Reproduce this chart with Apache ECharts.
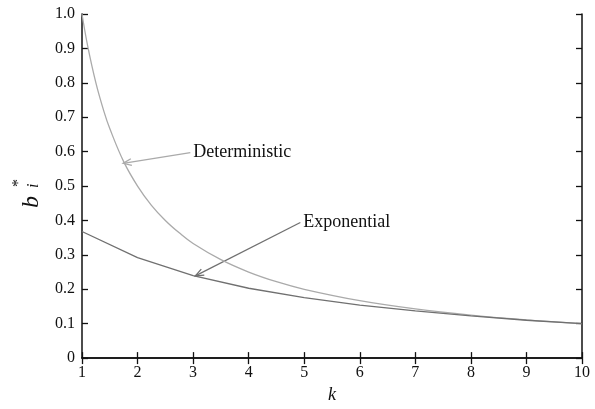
<!DOCTYPE html>
<html>
<head>
<meta charset="utf-8">
<script src="https://cdn.jsdelivr.net/npm/echarts@6/dist/echarts.min.js"></script>
<style>
  html, body { margin: 0; padding: 0; background: #fff; }
  #chart { width: 595px; height: 409px; }
</style>
</head>
<body>
<div id="chart"></div>
<script>
// Optimal b*_i against k for the two service-time models
const kDeterministic = [1, 1.1, 1.25, 1.4, 1.5, 1.75, 2, 2.25, 2.5, 2.75, 3, 3.5, 4, 4.5, 5, 6, 7, 8, 9, 10];
const bDeterministic = [1.0, 0.909, 0.8, 0.714, 0.667, 0.571, 0.5, 0.444, 0.4, 0.364, 0.333, 0.286, 0.25, 0.222, 0.2, 0.167, 0.143, 0.125, 0.111, 0.1];

const kExponential = [1, 2, 3, 4, 5, 6, 7, 8, 9, 10];
const bExponential = [0.368, 0.292, 0.240, 0.203, 0.176, 0.154, 0.137, 0.123, 0.110, 0.100];

const xTicks = [1, 2, 3, 4, 5, 6, 7, 8, 9, 10];
const yTicks = [0, 0.1, 0.2, 0.3, 0.4, 0.5, 0.6, 0.7, 0.8, 0.9, 1.0];

// Callouts: [text anchor, arrow tip] in data units
const callouts = [
  { text: 'Deterministic', from: [2.95, 0.597], to: [1.74, 0.566], color: '#aaaaaa' },
  { text: 'Exponential',   from: [4.93, 0.394], to: [3.04, 0.239], color: '#707070' }
];

const SERIF = '"Liberation Serif", "DejaVu Serif", serif';
const chart = echarts.init(document.getElementById('chart'));

const axisCommon = {
  axisLine: { show: true, lineStyle: { color: '#111', width: 1.5 } },
  axisTick: { show: true, inside: true, length: 6, lineStyle: { color: '#111', width: 1.3 } },
  splitLine: { show: false },
  axisLabel: { color: '#111', fontFamily: SERIF, fontSize: 16 }
};

function pair(xs, ys) { return xs.map((x, i) => [x, ys[i]]); }

chart.setOption({
  animation: false,
  backgroundColor: '#fff',
  grid: { left: 82, right: 13, top: 14, bottom: 40 },
  xAxis: [
    Object.assign({}, axisCommon, {
      type: 'value', min: 1, max: 10, interval: 1,
      axisLabel: Object.assign({}, axisCommon.axisLabel, { margin: 7, formatter: v => xTicks.includes(v) ? String(v) : '' }),
      name: 'k', nameLocation: 'middle', nameGap: 26,
      nameTextStyle: { fontFamily: SERIF, fontStyle: 'italic', fontSize: 18, color: '#111' }
    }),
    Object.assign({}, axisCommon, {
      type: 'value', min: 1, max: 10, interval: 1, position: 'top',
      axisLabel: { show: false }
    })
  ],
  yAxis: [
    Object.assign({}, axisCommon, {
      type: 'value', min: 0, max: 1, interval: 0.1,
      axisLabel: Object.assign({}, axisCommon.axisLabel, {
        margin: 7,
        formatter: v => {
          const t = yTicks.find(y => Math.abs(y - v) < 1e-9);
          return t === undefined ? '' : (t === 0 ? '0' : t.toFixed(1));
        }
      })
    }),
    Object.assign({}, axisCommon, {
      type: 'value', min: 0, max: 1, interval: 0.1, position: 'right',
      axisLabel: { show: false }
    })
  ],
  series: [
    {
      name: 'Deterministic', type: 'line', smooth: 0.4, showSymbol: false,
      data: pair(kDeterministic, bDeterministic),
      lineStyle: { color: '#aaaaaa', width: 1.3 }, z: 2
    },
    {
      name: 'Exponential', type: 'line', smooth: false, showSymbol: false,
      data: pair(kExponential, bExponential),
      lineStyle: { color: '#707070', width: 1.3 }, z: 3
    }
  ]
});

// Annotation arrows, labels and the y-axis title, placed from data units
function drawOverlay() {
  const els = [];
  callouts.forEach(c => {
    const p0 = chart.convertToPixel({ gridIndex: 0 }, c.from);
    const p1 = chart.convertToPixel({ gridIndex: 0 }, c.to);
    const ang = Math.atan2(p0[1] - p1[1], p0[0] - p1[0]);
    const head = 9, spread = 0.38;
    els.push({
      type: 'line', silent: true,
      shape: { x1: p0[0], y1: p0[1], x2: p1[0], y2: p1[1] },
      style: { stroke: c.color, lineWidth: 1.3 }
    });
    els.push({
      type: 'polyline', silent: true,
      shape: { points: [
        [p1[0] + head * Math.cos(ang + spread), p1[1] + head * Math.sin(ang + spread)],
        [p1[0], p1[1]],
        [p1[0] + head * Math.cos(ang - spread), p1[1] + head * Math.sin(ang - spread)]
      ] },
      style: { stroke: c.color, lineWidth: 1.3, fill: null }
    });
    els.push({
      type: 'text', silent: true, x: p0[0] + 3, y: p0[1],
      style: { text: c.text, font: '18px ' + SERIF, fill: '#111', align: 'left', verticalAlign: 'middle' }
    });
  });
  // y-axis title b*_i, each glyph turned to read upward
  const title = [
    { text: 'b', font: 'italic 24px ' + SERIF, x: 20, y: 208 },
    { text: 'i', font: 'italic 16px ' + SERIF, x: 26, y: 188 },
    { text: '*', font: '16px ' + SERIF, x: 11, y: 187 }
  ];
  title.forEach(t => {
    els.push({
      type: 'text', x: t.x, y: t.y, rotation: Math.PI / 2, originX: 0, originY: 0,
      style: { text: t.text, font: t.font, fill: '#111' }
    });
  });
  chart.setOption({ graphic: { elements: els } });
}
drawOverlay();
</script>
</body>
</html>
